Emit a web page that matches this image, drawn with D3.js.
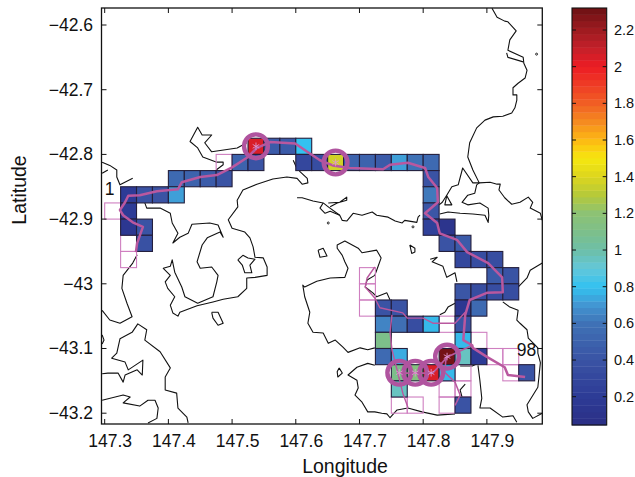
<!DOCTYPE html>
<html><head><meta charset="utf-8">
<script src="https://cdn.jsdelivr.net/npm/d3@7"></script>
<style>html,body{margin:0;padding:0;background:#fff}svg{display:block}text{font-family:"Liberation Sans",Arial,sans-serif;fill:#111}</style>
</head><body><svg id="c" width="635" height="477"></svg>
<script>
// Grid cells: left-edge longitude and top-edge latitude; null = visited, no value
const cellLon = [147.525,147.55,147.575,147.6,
 147.475,147.5,147.525,147.6,147.625,147.65,147.675,147.7,147.725,147.75,147.775,147.8,
 147.4,147.425,147.45,147.475,147.8,
 147.325,147.35,147.375,147.4,147.8,
 147.3,147.325,147.8,
 147.325,147.35,147.8,147.825,
 147.325,147.35,147.825,147.85,
 147.325,147.85,147.875,147.9,
 147.7,147.9,147.925,
 147.7,147.85,147.875,147.9,147.925,
 147.7,147.725,147.75,147.85,147.875,
 147.725,147.75,147.775,147.8,147.825,147.85,
 147.725,147.85,147.875,
 147.725,147.75,147.825,147.85,147.875,147.9,147.925,
 147.75,147.775,147.8,147.825,147.85,147.925,147.95,
 147.75,147.825,147.85,
 147.75,147.775,147.825,147.85];
const cellLat = [-42.775,-42.775,-42.775,-42.775,
 -42.8,-42.8,-42.8,-42.8,-42.8,-42.8,-42.8,-42.8,-42.8,-42.8,-42.8,-42.8,
 -42.825,-42.825,-42.825,-42.825,-42.825,
 -42.85,-42.85,-42.85,-42.85,-42.85,
 -42.875,-42.875,-42.875,
 -42.9,-42.9,-42.9,-42.9,
 -42.925,-42.925,-42.925,-42.925,
 -42.95,-42.95,-42.95,-42.95,
 -42.975,-42.975,-42.975,
 -43,-43,-43,-43,-43,
 -43.025,-43.025,-43.025,-43.025,-43.025,
 -43.05,-43.05,-43.05,-43.05,-43.05,-43.05,
 -43.075,-43.075,-43.075,
 -43.1,-43.1,-43.1,-43.1,-43.1,-43.1,-43.1,
 -43.125,-43.125,-43.125,-43.125,-43.125,-43.125,-43.125,
 -43.15,-43.15,-43.15,
 -43.175,-43.175,-43.175,-43.175];
const cellValue = [2.05,0.45,0.45,0.8,
 null,0.5,0.4,0.3,0.35,1.37,0.5,0.5,0.45,0.72,0.6,0.55,
 0.55,0.5,0.45,0.4,0.4,
 0.2,0.4,0.4,0.72,0.62,
 null,0.2,0.42,
 0.15,0.4,0.25,0.12,
 null,0.38,0.4,0.45,
 null,0.3,0.35,0.35,
 null,0.45,0.4,
 null,0.42,0.35,0.35,0.35,
 null,0.4,0.4,0.15,0.55,
 0.65,0.58,0.35,0.78,null,0.4,
 1.1,0.78,null,
 0.55,0.75,2.3,0.95,0.2,null,null,
 1.1,1.15,2.05,0.78,null,null,0.4,
 0.95,null,null,
 null,null,null,0.4];

// Colour bar
const colorStops = [0.05,0.2,0.4,0.6,0.7,0.8,0.9,1.0,1.1,1.2,1.3,1.4,1.5,1.6,1.7,1.8,1.9,2.0,2.1,2.2,2.32];
const colorHex = ["#2b2f86","#2d3b96","#3a53a4","#3f72b6","#4296d2","#33c2f0","#63c7da","#6dbfa8","#7dbf8a","#8dc274","#b5c93a","#dcd61e","#f6e80f","#fdb913","#f58a20","#f15f24","#ee3d25","#ed1c24","#c4202a","#9e1b20","#6b1013"];
const colorTicks = [0.2,0.4,0.6,0.8,1,1.2,1.4,1.6,1.8,2,2.2];

const lonTicks = [147.3,147.4,147.5,147.6,147.7,147.8,147.9];
const latTicks = [-42.6,-42.7,-42.8,-42.9,-43,-43.1,-43.2];
const latLabels = ["−42.6","−42.7","−42.8","−42.9","−43","−43.1","−43.2"];

// Coastlines: pairs [thousandths of a degree east of 147E, thousandths of a degree south of 42S]
const coastNorthEast = [[908,574],[916,588],[928,594],[933,595],[946,609],[936,623],[933,639],[957,650],[958,659],[963,670],[960,682],[949,690],[941,697],[941,708],[947,708],[947,716],[944,728],[939,736],[925,741],[910,742],[897,747],[884,759],[873,782],[870,804],[878,824],[888,844],[905,843],[916,846],[921,846],[919,855],[928,867],[939,877],[952,874],[965,866],[972,874],[968,883],[984,891],[987,902]];
const coastInlet = [[931,643],[933,650],[957,657]];
const coastForestier = [[888,844],[878,844],[862,821],[855,847],[845,850],[837,863],[830,874],[825,878]];
const coastLake1 = [[837,864],[845,878],[834,878],[837,864]];
const coastTasman = [[888,844],[884,847],[881,860],[870,863],[861,874],[870,878],[889,875],[902,883],[903,894],[902,905],[897,894],[878,892],[858,891],[839,889],[826,892]];
const coastWestMain = [[363,875],[366,883],[387,883],[403,891],[406,906],[415,922],[407,937],[418,928],[431,922],[437,908],[465,906],[478,909],[486,928],[481,920],[461,929],[453,940],[445,966],[450,976],[468,974],[478,987],[476,997],[470,1020],[446,1030],[426,1020],[421,1005],[410,982],[406,963],[403,973],[392,976],[403,987],[395,997],[399,1007],[410,1020],[403,1033],[407,1045],[415,1050],[418,1044],[445,1034],[470,1028],[486,1024],[509,1020],[523,1007],[523,991],[536,990],[555,987],[555,974],[549,960],[536,959],[533,943],[528,929],[520,920],[500,914],[494,901],[509,881],[508,871],[517,855],[539,846],[564,838],[586,835],[602,837],[610,846],[619,844],[618,837],[607,827],[600,818],[596,809]];
const coastLake2 = [[509,963],[517,956],[525,960],[536,962],[528,971],[531,983],[520,983],[516,971],[509,963]];
const coastMid = [[602,867],[610,867],[627,872],[643,875],[651,881],[669,894],[673,902],[680,903],[690,891],[704,894],[720,889],[727,894],[745,897],[756,903],[767,906],[771,902],[790,905],[792,897],[795,894]];
const coastMidLoop = [[643,875],[638,883],[646,891],[654,888],[669,894]];
const coastMidSpur = [[651,875],[669,874],[680,866],[680,871],[665,875],[654,881]];
const coastSouthA = [[748,1025],[743,1014],[727,1020],[721,1014],[709,1005],[712,994],[724,987],[727,979],[734,960],[727,948],[704,952],[698,945],[677,934],[665,940],[665,945],[673,956],[677,966],[682,976],[677,990],[654,991],[633,996],[614,1005],[611,1002],[614,1020],[622,1044],[619,1061],[627,1075],[643,1076],[651,1092],[662,1087],[674,1098],[682,1106],[701,1099],[713,1102],[724,1099]];
const coastSouthB = [[724,1126],[713,1123],[696,1129],[682,1141],[696,1149],[698,1161],[693,1172],[704,1183],[713,1198],[724,1198],[735,1200],[743,1201],[748,1207],[759,1195],[776,1192],[798,1198],[822,1203],[850,1201]];
const coastSouthC = [[886,1126],[889,1149],[892,1177],[889,1192],[905,1192],[925,1206],[941,1204],[947,1214]];
const coastEastLow = [[987,1200],[972,1208],[965,1198],[963,1187],[980,1160],[984,1122],[980,1107],[980,1099],[965,1084],[963,1071],[952,1061],[947,1056],[949,1041],[936,1036],[925,1028]];
const coastEastMid = [[949,1005],[963,991],[968,979],[987,968]];
const coastBit1 = [[811,962],[822,959],[814,966],[831,973],[837,990],[850,983],[853,997]];
const coastBit2 = [[826,1048],[834,1044],[839,1036],[850,1030]];
const coastBit3 = [[858,1127],[877,1127],[884,1124]];
const coastBit4 = [[866,1155],[858,1164],[861,1175]];
const coastWestLow = [[351,955],[344,968],[329,987],[327,1007],[335,1030],[343,1051],[324,1061],[308,1056],[296,1041]];
const coastNW1 = [[296,812],[308,817],[319,824],[319,835],[324,847],[344,837]];
const coastNW2 = [[296,829],[305,824]];
const coastBruny = [[296,1139],[305,1138],[321,1138],[329,1152],[332,1141],[351,1133],[359,1141],[360,1118],[337,1133],[332,1121],[311,1115],[319,1107],[324,1085],[343,1075],[352,1062],[366,1071],[363,1087],[387,1105],[403,1130],[395,1144],[395,1164],[413,1169],[415,1192],[429,1206],[431,1215]];
const coastSW = [[296,1180],[329,1172],[340,1175],[329,1184],[355,1189],[368,1180],[379,1180],[384,1192],[382,1208],[368,1215]];
const coastSmall = [[296,1079],[299,1087],[296,1093]];
const islandA = [[468,1044],[478,1044],[486,1061],[478,1064],[470,1053],[468,1044]];
const islandB = [[635,948],[643,945],[649,957],[638,959],[635,948]];
const islandC = [[779,940],[787,945],[787,951],[782,953],[779,940]];
const islandD = [[668,1130],[673,1138],[666,1144],[665,1136],[668,1130]];
const coastPeninsula = [[523,782],[508,790],[468,796],[457,782],[468,770],[453,770],[446,758],[434,780],[446,790],[454,804],[476,812],[486,812],[486,816],[475,824]];
const coastDots = [[784,912],[651,906],[978,645]];
const coasts = [coastNorthEast,coastInlet,coastForestier,coastLake1,coastTasman,coastWestMain,coastLake2,coastMid,coastMidLoop,coastMidSpur,coastSouthA,coastSouthB,coastSouthC,coastEastLow,coastEastMid,coastBit1,coastBit2,coastBit3,coastBit4,coastWestLow,coastNW1,coastNW2,coastBruny,coastSW,coastSmall,islandA,islandB,islandC,islandD,coastPeninsula];

// Survey track (same units as the coast)
const trackMain = [[349,951],[351,937],[360,912],[344,905],[329,894],[324,886],[332,874],[337,864],[355,863],[382,857],[415,854],[421,843],[450,835],[476,832],[500,820],[525,804],[539,790],[560,781],[599,783],[618,796],[638,809],[658,817],[685,821],[737,823],[748,816],[776,813],[803,821],[808,835],[822,852],[823,874],[803,891],[822,906],[826,922],[853,932],[869,951],[902,968],[924,990],[925,1013],[900,1014],[873,1025],[866,1048],[863,1087],[877,1095],[878,1099],[900,1113],[928,1129],[933,1141],[960,1144]];
const trackNorthSouth = [[724,974],[712,991],[709,1005],[724,1022],[732,1037],[768,1045],[775,1053],[800,1053],[816,1061],[850,1061],[866,1044]];
const trackWest = [[751,1048],[748,1075],[751,1102],[759,1133],[768,1169],[776,1191]];
const trackCircles = [[877,1095],[838,1113],[815,1138],[787,1138],[763,1138]];
const trackEast = [[836,1113],[834,1137],[850,1152],[858,1172],[850,1188]];

// Ringed high-value cells: centre longitude, latitude
const ringLon = [147.5375,147.6625,147.8375,147.7625,147.7875,147.8125];
const ringLat = [-42.7875,-42.8125,-43.1125,-43.1375,-43.1375,-43.1375];

const startLabel = ["1",147.3,-42.862];
const endLabel = ["98",147.947,-43.112];

const svg=d3.select("#c");
const x=d3.scaleLinear().domain([147.295,147.987]).range([101.5,542.3]);
const y=d3.scaleLinear().domain([-42.5737,-43.2167]).range([8,424]);
const toGeo=p=>[147+p[0]/1000,-42-p[1]/1000];
const line=d3.line().x(p=>x(toGeo(p)[0])).y(p=>y(toGeo(p)[1]));
const color=d3.scaleLinear().domain(colorStops).range(colorHex).clamp(true);

svg.append("defs").append("clipPath").attr("id","pc").append("rect")
 .attr("x",x.range()[0]).attr("y",y.range()[0]).attr("width",x.range()[1]-x.range()[0]).attr("height",y.range()[1]-y.range()[0]);
const plot=svg.append("g").attr("clip-path","url(#pc)");

plot.selectAll("path.coast").data(coasts).join("path").attr("class","coast")
 .attr("d",line).attr("fill","none").attr("stroke","#111").attr("stroke-width",1.1).attr("stroke-linejoin","round");
plot.selectAll("circle.dot").data(coastDots).join("circle").attr("class","dot")
 .attr("cx",p=>x(toGeo(p)[0])).attr("cy",p=>y(toGeo(p)[1])).attr("r",1).attr("fill","none").attr("stroke","#111").attr("stroke-width",.9);

const cells=cellLon.map((lon,i)=>({lon,lat:cellLat[i],v:cellValue[i]}));
const cw=x(147.325)-x(147.3), ch=y(-42.825)-y(-42.8);
const rect=s=>s.attr("x",d=>x(d.lon)).attr("y",d=>y(d.lat)).attr("width",cw).attr("height",ch);
plot.selectAll("rect.empty").data(cells.filter(d=>d.v===null)).join("rect").attr("class","empty").call(rect)
 .attr("fill","none").attr("stroke","#cf7fc0").attr("stroke-width",1.1);
plot.selectAll("rect.cell").data(cells.filter(d=>d.v!==null)).join("rect").attr("class","cell").call(rect)
 .attr("fill",d=>color(d.v)).attr("stroke","#241f3d").attr("stroke-width",1.1);

const tracks=[[trackMain,2.5],[trackNorthSouth,1.4],[trackWest,1.4],[trackCircles,1.7],[trackEast,1.5]];
plot.selectAll("path.track").data(tracks).join("path").attr("class","track")
 .attr("d",d=>line(d[0])).attr("fill","none").attr("stroke","#b9589f").attr("stroke-width",d=>d[1]).attr("stroke-linejoin","round");

const rings=ringLon.map((lon,i)=>[lon,ringLat[i]]);
plot.selectAll("circle.ring").data(rings).join("circle").attr("class","ring")
 .attr("cx",d=>x(d[0])).attr("cy",d=>y(d[1])).attr("r",11.9).attr("fill","none").attr("stroke","#b0549f").attr("stroke-width",4.4);
plot.selectAll("path.star").data(rings).join("path").attr("class","star")
 .attr("transform",d=>`translate(${x(d[0])},${y(d[1])})`)
 .attr("d",d3.symbol(d3.symbolAsterisk,40)).attr("fill","none").attr("stroke","#dc96cf").attr("stroke-width",.9);

svg.selectAll("text.route").data([startLabel,endLabel]).join("text").attr("class","route")
 .attr("x",d=>x(d[1])).attr("y",d=>y(d[2])).attr("font-size",17.5).text(d=>d[0]);

// Axes
const ax=svg.append("g").attr("fill","none").attr("stroke","#111");
ax.append("rect").attr("x",x.range()[0]).attr("y",y.range()[0]).attr("width",x.range()[1]-x.range()[0]).attr("height",y.range()[1]-y.range()[0]).attr("stroke-width",1.3);
ax.selectAll("path.xt").data(lonTicks).join("path").attr("class","xt").attr("stroke-width",1)
 .attr("d",d=>`M${x(d)},8v5M${x(d)},424v-5`);
ax.selectAll("path.yt").data(latTicks).join("path").attr("class","yt").attr("stroke-width",1)
 .attr("d",d=>`M101.5,${y(d)}h5M542.3,${y(d)}h-5`);
svg.selectAll("text.xl").data(lonTicks).join("text").attr("class","xl").attr("x",d=>x(d)+5.5).attr("y",447)
 .attr("text-anchor","middle").attr("font-size",17.5).text(d=>d.toFixed(1));
svg.selectAll("text.yl").data(latTicks).join("text").attr("class","yl").attr("x",93).attr("y",d=>y(d)+6)
 .attr("text-anchor","end").attr("font-size",17.5).text((d,i)=>latLabels[i]);
svg.append("text").attr("x",345).attr("y",473).attr("text-anchor","middle").attr("font-size",19.5).text("Longitude");
svg.append("text").attr("transform","translate(26,190) rotate(-90)").attr("text-anchor","middle").attr("font-size",19.5).text("Latitude");

// Colour bar
const cy=d3.scaleLinear().domain([0.2,2.2]).range([396.7,30]);
const vMin=cy.invert(425), vMax=cy.invert(8), N=64;
const levels=d3.range(N).map(i=>vMin+(vMax-vMin)*i/N);
const step=(vMax-vMin)/N;
svg.selectAll("rect.cb").data(levels).join("rect").attr("class","cb").attr("x",572).attr("width",34.7)
 .attr("y",d=>cy(d+step)).attr("height",d=>cy(d)-cy(d+step)+.4).attr("fill",d=>color(d+step/2));
svg.append("rect").attr("x",572).attr("y",8).attr("width",34.7).attr("height",417).attr("fill","none").attr("stroke","#111").attr("stroke-width",1.1);
svg.selectAll("path.ct").data(colorTicks).join("path").attr("class","ct").attr("stroke","#111").attr("fill","none")
 .attr("d",d=>`M572,${cy(d)}h4M606.7,${cy(d)}h-4`);
svg.selectAll("text.cl").data(colorTicks).join("text").attr("class","cl").attr("x",614).attr("y",d=>cy(d)+5)
 .attr("font-size",14.5).text(d=>String(d));
</script></body></html>
